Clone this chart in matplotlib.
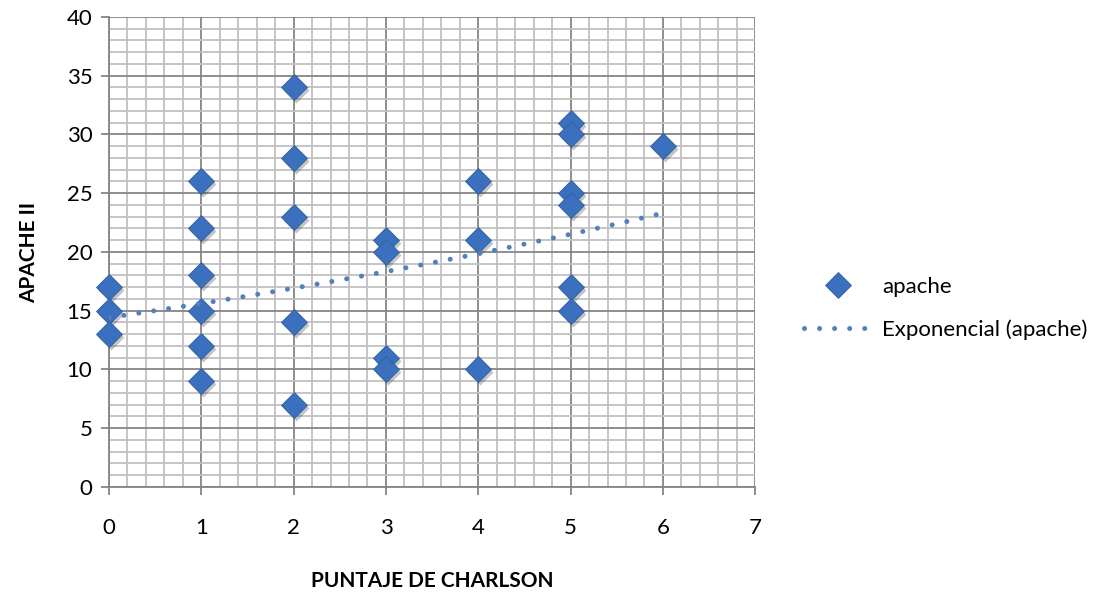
import numpy as np
import matplotlib
matplotlib.use('Agg')
import matplotlib.pyplot as plt
from matplotlib.ticker import MultipleLocator
from matplotlib.transforms import offset_copy

plt.rcParams['font.family'] = ['Lato', 'DejaVu Sans']

# puntaje de charlson vs apache II
charlson = [0, 0, 0,
            1, 1, 1, 1, 1, 1,
            2, 2, 2, 2, 2,
            3, 3, 3, 3,
            4, 4, 4,
            5, 5, 5, 5, 5, 5,
            6]
apache = [17, 15, 13,
          26, 22, 18, 15, 12, 9,
          34, 28, 23, 14, 7,
          21, 20, 11, 10,
          26, 21, 10,
          31, 30, 25, 24, 17, 15,
          29]

x = np.array(charlson, dtype=float)
y = np.array(apache, dtype=float)

# ajuste exponencial (como la linea de tendencia de excel)
b, lna = np.polyfit(x, np.log(y), 1)
xt = np.linspace(x.min(), x.max(), 100)
yt = np.exp(lna) * np.exp(b * xt)

fig = plt.figure(figsize=(11.17, 5.96), dpi=100)
ax = fig.add_axes([0.0976, 0.1829, 0.5785, 0.7886])

blue = '#3a70bd'
shadow = offset_copy(ax.transData, fig=fig, x=1.5, y=-2.0, units='points')
ax.plot(x, y, 'D', ms=13, color='#404040', alpha=0.3, mec='none', transform=shadow,
        zorder=3, clip_on=False)
ax.plot(x, y, 'D', ms=13, color=blue, mec='#2f5f9f', mew=0.6, label='apache',
        zorder=4, clip_on=False)
ax.plot(xt, yt, color='#4f81bd', lw=3.6, linestyle=(0, (0.01, 3.0)), dash_capstyle='round',
        label='Exponencial (apache)', zorder=5)

ax.set_xlim(0, 7)
ax.set_ylim(0, 40)
ax.xaxis.set_major_locator(MultipleLocator(1))
ax.xaxis.set_minor_locator(MultipleLocator(0.2))
ax.yaxis.set_major_locator(MultipleLocator(5))
ax.yaxis.set_minor_locator(MultipleLocator(1))
ax.grid(which='major', color='#858585', lw=1.3)
ax.grid(which='minor', color='#c0c0c0', lw=1.3)
ax.set_axisbelow(True)
for s in ['top', 'right']:
    ax.spines[s].set_visible(False)
for s in ['left', 'bottom']:
    ax.spines[s].set_color('#858585')
    ax.spines[s].set_linewidth(1.3)
ax.tick_params(which='major', length=6, width=1.3, color='#858585', labelsize=16, pad=6)
ax.tick_params(axis='x', pad=16)
ax.tick_params(which='minor', length=0)

ax.set_xlabel('PUNTAJE DE CHARLSON', fontsize=15, fontweight='bold', labelpad=24)
ax.set_ylabel('APACHE II', fontsize=15, fontweight='bold', labelpad=20)

ax.legend(loc='center left', bbox_to_anchor=(1.045, 0.38), frameon=False, fontsize=16,
          handlelength=3.0, handletextpad=0.5, labelspacing=1.0)

plt.savefig('out.png', dpi=100)
plt.close()
